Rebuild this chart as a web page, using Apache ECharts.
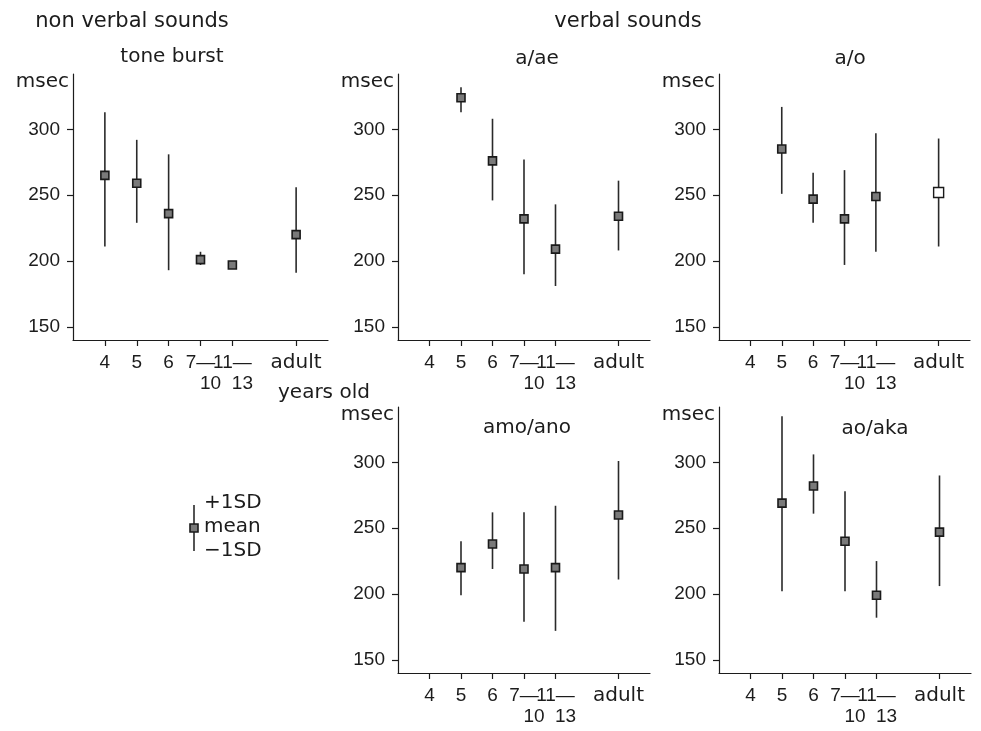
<!DOCTYPE html>
<html>
<head>
<meta charset="utf-8">
<script src="https://cdn.jsdelivr.net/npm/echarts@6/dist/echarts.min.js"></script>
<style>
html,body{margin:0;padding:0;background:#fff;}
#chart{width:981px;height:731px;}
</style>
</head>
<body>
<div id="chart"></div>
<script>
// ---------- data ----------
const ageGroups = ['4', '5', '6', '7—\n10', '11—\n13', 'adult'];
const yTicks = [150, 200, 250, 300];
const yUnit = 'msec';
const xUnit = 'years old';
const groupTitles = ['non verbal sounds', 'verbal sounds'];
const panelTitles = ['tone burst', 'a/ae', 'a/o', 'amo/ano', 'ao/aka'];
const keyLabels = ['+1SD', 'mean', '−1SD'];

const toneMean = [265, 259, 236, 201, 197, 220];
const toneLow  = [211, 229, 193, 197, 195, 191];
const toneHigh = [313, 292, 281, 207, 199, 256];

const aaeMean = [null, 324, 276, 232, 209, 234];
const aaeLow  = [null, 313, 246, 190, 181, 208];
const aaeHigh = [null, 332, 308, 277, 243, 261];

const aoMean = [null, 285, 247, 232, 249, 252];
const aoLow  = [null, 251, 229, 197, 207, 211];
const aoHigh = [null, 317, 267, 269, 297, 293];

const amoMean = [null, 220, 238, 219, 220, 260];
const amoLow  = [null, 199, 219, 179, 172, 211];
const amoHigh = [null, 240, 262, 262, 267, 301];

const akaMean = [null, 269, 282, 240, 199, 247];
const akaLow  = [null, 202, 261, 202, 182, 206];
const akaHigh = [null, 335, 306, 278, 225, 290];

// ---------- layout / style ----------
const INK = '#1c1c1c';
const NUM_FONT = 'Liberation Sans';
const WORD_FONT = 'DejaVu Sans';
const Y_MIN = 140, Y_MAX = 342;

const panels = [
  {title: panelTitles[0], mean: toneMean, low: toneLow, high: toneHigh, grid: {left: 73, top: 74, width: 255, height: 266}, tx: 172, ty: 57, hollow: []},
  {title: panelTitles[1], mean: aaeMean, low: aaeLow, high: aaeHigh, grid: {left: 398, top: 74, width: 252, height: 266}, tx: 537, ty: 59, hollow: []},
  {title: panelTitles[2], mean: aoMean, low: aoLow, high: aoHigh, grid: {left: 719, top: 74, width: 251, height: 266}, tx: 850, ty: 59, hollow: ['adult']},
  {title: panelTitles[3], mean: amoMean, low: amoLow, high: amoHigh, grid: {left: 398, top: 407, width: 252, height: 266}, tx: 527, ty: 428, hollow: []},
  {title: panelTitles[4], mean: akaMean, low: akaLow, high: akaHigh, grid: {left: 719, top: 407, width: 252, height: 266}, tx: 875, ty: 429, hollow: []}
];

// category axis: a spacer before the first group, a gap before 'adult', and a spacer at the end
const axisCats = [''].concat(ageGroups.slice(0, 5), [''], ageGroups.slice(5), ['']);
function catIndex(i) { return i < 5 ? i + 1 : i + 2; }

function labelFormatter(val) {
  if (!val) return '';
  const parts = val.split('\n');
  if (parts.length === 2) return '{d|' + parts[0] + '}\n{s|' + parts[1] + '}';
  if (/^\d/.test(val)) return '{d|' + val + '}';
  return '{w|' + val + '}';
}

const grids = [], xAxes = [], yAxes = [], series = [], graphics = [];

panels.forEach((p, k) => {
  grids.push(Object.assign({containLabel: false}, p.grid));
  xAxes.push({
    type: 'category', gridIndex: k, data: axisCats, boundaryGap: false,
    axisLine: {lineStyle: {color: INK, width: 1.2}},
    axisTick: {show: true, length: 6, interval: (i, v) => v !== '', lineStyle: {color: INK, width: 1.2}},
    axisLabel: {
      interval: 0, margin: 12, formatter: labelFormatter,
      rich: {
        d: {fontFamily: NUM_FONT, fontSize: 19, color: INK, lineHeight: 21},
        s: {fontFamily: NUM_FONT, fontSize: 19, color: INK, lineHeight: 21, padding: [0, 0, 0, 20]},
        w: {fontFamily: WORD_FONT, fontSize: 20, color: INK, lineHeight: 21}
      }
    },
    splitLine: {show: false}
  });
  yAxes.push({
    type: 'value', gridIndex: k, min: Y_MIN, max: Y_MAX,
    axisLine: {show: true, lineStyle: {color: INK, width: 1.2}},
    axisTick: {show: true, length: 6, customValues: yTicks, lineStyle: {color: INK, width: 1.2}},
    axisLabel: {customValues: yTicks, margin: 13, fontFamily: NUM_FONT, fontSize: 19, color: INK},
    splitLine: {show: false}
  });
  const data = [];
  p.mean.forEach((m, i) => {
    if (m == null) return;
    data.push([catIndex(i), m, p.low[i], p.high[i], p.hollow.indexOf(ageGroups[i]) >= 0 ? 1 : 0]);
  });
  series.push({
    type: 'custom', xAxisIndex: k, yAxisIndex: k, data: data, clip: false,
    encode: {x: 0, y: [1, 2, 3]},
    renderItem: function (params, api) {
      const x = api.value(0);
      const pm = api.coord([x, api.value(1)]);
      const pl = api.coord([x, api.value(2)]);
      const ph = api.coord([x, api.value(3)]);
      const hollow = api.value(4) === 1;
      const s = hollow ? 10 : 8;
      return {
        type: 'group',
        children: [
          {type: 'line', shape: {x1: pl[0], y1: pl[1], x2: ph[0], y2: ph[1]}, style: {stroke: '#2a2a2a', lineWidth: 1.6}},
          {type: 'rect', shape: {x: pm[0] - s / 2, y: pm[1] - s / 2, width: s, height: s},
           style: {fill: hollow ? '#ffffff' : '#7a7a7a', stroke: '#1a1a1a', lineWidth: hollow ? 1.4 : 1.6}}
        ]
      };
    }
  });
  // panel title and unit label
  graphics.push({type: 'text', x: p.tx, y: p.ty,
    style: {text: p.title, font: '20px "' + WORD_FONT + '"', fill: INK, align: 'center', verticalAlign: 'middle'}});
  graphics.push({type: 'text', x: p.grid.left - 4, y: p.grid.top + 8,
    style: {text: yUnit, font: '20px "' + WORD_FONT + '"', fill: INK, align: 'right', verticalAlign: 'middle'}});
});

// group titles and x unit
graphics.push({type: 'text', x: 132, y: 22, style: {text: groupTitles[0], font: '21px "' + WORD_FONT + '"', fill: INK, align: 'center', verticalAlign: 'middle'}});
graphics.push({type: 'text', x: 628, y: 22, style: {text: groupTitles[1], font: '21px "' + WORD_FONT + '"', fill: INK, align: 'center', verticalAlign: 'middle'}});
graphics.push({type: 'text', x: 278, y: 393, style: {text: xUnit, font: '20px "' + WORD_FONT + '"', fill: INK, align: 'left', verticalAlign: 'middle'}});

// key (legend) explaining the error bar
graphics.push({type: 'line', shape: {x1: 194, y1: 505, x2: 194, y2: 551}, style: {stroke: '#2a2a2a', lineWidth: 1.6}});
graphics.push({type: 'rect', shape: {x: 190, y: 524, width: 8, height: 8}, style: {fill: '#7a7a7a', stroke: '#1a1a1a', lineWidth: 1.6}});
keyLabels.forEach((t, i) => {
  graphics.push({type: 'text', x: 204, y: 503 + i * 24, style: {text: t, font: '20px "' + WORD_FONT + '"', fill: INK, align: 'left', verticalAlign: 'middle'}});
});

const chart = echarts.init(document.getElementById('chart'), null, {renderer: 'canvas'});
chart.setOption({
  animation: false,
  backgroundColor: '#ffffff',
  grid: grids,
  xAxis: xAxes,
  yAxis: yAxes,
  series: series,
  graphic: graphics
});
</script>
</body>
</html>
